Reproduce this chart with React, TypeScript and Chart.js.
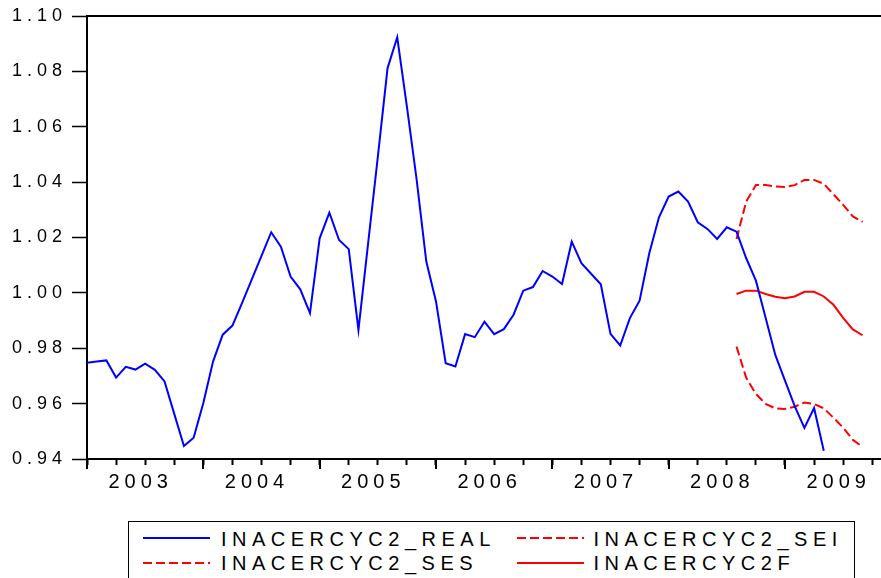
import React, { useEffect, useRef } from "react";
import { Chart, registerables } from "chart.js";

Chart.register(...registerables);

// ---- data ----
const startYear = 2003; // first observation: 2003M01, monthly
const yearLabels = ["2003", "2004", "2005", "2006", "2007", "2008", "2009"];
const seriesNames = ["INACERCYC2_REAL", "INACERCYC2_SEI", "INACERCYC2_SES", "INACERCYC2F"];

const realValues = [
  0.9748, 0.9752, 0.9756, 0.9694, 0.9733, 0.9723, 0.9744, 0.9722, 0.968, 0.9563, 0.9447, 0.9477,
  0.9602, 0.9752, 0.9849, 0.9882, 0.9964, 1.0049, 1.0134, 1.0219, 1.0167, 1.0059, 1.0013, 0.9927,
  1.0197, 1.029, 1.0191, 1.0158, 0.9866, 1.018, 1.0491, 1.0811, 1.0923, 1.0673, 1.041, 1.0113,
  0.9969, 0.9746, 0.9734, 0.9851, 0.984, 0.9896, 0.9851, 0.9869, 0.9921, 1.0008, 1.0021, 1.0079,
  1.0059, 1.0032, 1.0185, 1.0107, 1.0069, 1.0031, 0.9852, 0.981, 0.9909, 0.9972, 1.0143, 1.0273,
  1.0348, 1.0366, 1.033, 1.0255, 1.0231, 1.0195, 1.0237, 1.0221, 1.0125, 1.0044, 0.991, 0.9776,
  0.9683, 0.9591, 0.9512, 0.9584, 0.943,
];

const forecastStart = 67; // 2008M08
const seiValues = [
  1.0195, 1.033, 1.039, 1.039, 1.0384, 1.0382, 1.0389, 1.0408, 1.0408, 1.0394, 1.0356, 1.0318, 1.0276, 1.0256,
];
const sesValues = [
  0.9806, 0.9693, 0.9635, 0.9599, 0.9583, 0.9581, 0.9589, 0.9604, 0.9599, 0.9583, 0.9549, 0.9513, 0.9469, 0.9444,
];
const forecastValues = [
  0.9996, 1.0008, 1.0008, 0.9996, 0.9986, 0.9981, 0.9987, 1.0004, 1.0004, 0.9987, 0.9957, 0.991, 0.9868, 0.9847,
];

const yTickValues = [0.94, 0.96, 0.98, 1.0, 1.02, 1.04, 1.06, 1.08, 1.1];

// ---- styles / layout ----
const FONT = "'Liberation Sans', Arial, sans-serif";
const BLUE = "#0000FF";
const RED = "#FF0000";
const DASH = [9, 4];
const X_MAX = 83.45; // axis extends past the visible window
const CANVAS_W = 896;
const CANVAS_H = 500;
const PLOT_LEFT = 87;
const PLOT_TOP = 16;
const PLOT_BOTTOM = 459;

const seriesStyles = [
  { color: BLUE, dash: [] as number[] },
  { color: RED, dash: DASH },
  { color: RED, dash: DASH },
  { color: RED, dash: [] as number[] },
];

const toPoints = (vals: number[], start: number) => vals.map((v, k) => ({ x: start + k, y: v }));

const quarterTicks: number[] = [];
for (let v = 0; v <= X_MAX; v += 3) quarterTicks.push(v);

const spacingPlugin = {
  id: "letterSpacing",
  beforeUpdate(c: any) { (c.ctx as any).letterSpacing = "5px"; },
  beforeLayout(c: any) { (c.ctx as any).letterSpacing = "5px"; },
  beforeDraw(c: any) { (c.ctx as any).letterSpacing = "5px"; },
};

const majorTickPlugin = {
  id: "majorTicks",
  afterDraw(c: any) {
    const s = c.scales.x;
    const ctx = c.ctx;
    ctx.save();
    ctx.strokeStyle = "#000";
    ctx.lineWidth = 2;
    for (let k = 0; k <= yearLabels.length; k++) {
      const v = k * 12;
      if (v > s.max) break;
      const px = Math.round(s.getPixelForValue(v));
      ctx.beginPath();
      ctx.moveTo(px, s.top);
      ctx.lineTo(px, s.top + 10);
      ctx.stroke();
    }
    ctx.restore();
  },
};

export default function App() {
  const ref = useRef<HTMLCanvasElement | null>(null);

  useEffect(() => {
    if (!ref.current) return;
    const datasets = [
      { data: toPoints(realValues, 0) },
      { data: toPoints(seiValues, forecastStart) },
      { data: toPoints(sesValues, forecastStart) },
      { data: toPoints(forecastValues, forecastStart) },
    ].map((d, i) => ({
      label: seriesNames[i],
      data: d.data,
      borderColor: seriesStyles[i].color,
      backgroundColor: seriesStyles[i].color,
      borderDash: seriesStyles[i].dash,
      borderWidth: 2,
      pointRadius: 0,
      tension: 0,
      fill: false,
    }));

    const chart = new Chart(ref.current, {
      type: "line",
      data: { datasets },
      plugins: [spacingPlugin, majorTickPlugin],
      options: {
        animation: false,
        responsive: true,
        maintainAspectRatio: false,
        layout: { padding: 0 },
        plugins: { legend: { display: false }, tooltip: { enabled: false } },
        scales: {
          x: {
            type: "linear",
            position: "bottom",
            min: 0,
            max: X_MAX,
            afterBuildTicks: (s: any) => {
              s.ticks = quarterTicks.map((v) => ({ value: v }));
            },
            afterFit: (s: any) => {
              s.height = CANVAS_H - PLOT_BOTTOM;
            },
            ticks: {
              autoSkip: false,
              maxRotation: 0,
              minRotation: 0,
              padding: 5,
              labelOffset: -4.5,
              color: "#000",
              font: { family: FONT, size: 20 },
              callback: (v: any) => {
                const n = Number(v);
                return n % 12 === 6 ? yearLabels[(n - 6) / 12] ?? "" : "";
              },
            },
            grid: { drawOnChartArea: false, drawTicks: true, tickLength: 6, tickWidth: 2, tickColor: "#000" },
            border: { display: true, color: "#000", width: 2 },
          },
          xTop: {
            type: "linear",
            position: "top",
            axis: "x",
            min: 0,
            max: X_MAX,
            afterFit: (s: any) => {
              s.height = PLOT_TOP;
            },
            ticks: { display: false },
            grid: { drawOnChartArea: false, drawTicks: false },
            border: { display: true, color: "#000", width: 2 },
          },
          y: {
            type: "linear",
            position: "left",
            min: 0.94,
            max: 1.1,
            afterBuildTicks: (s: any) => {
              s.ticks = yTickValues.map((v) => ({ value: v }));
            },
            afterFit: (s: any) => {
              s.width = PLOT_LEFT;
            },
            ticks: {
              padding: 5,
              color: "#000",
              font: { family: FONT, size: 18 },
              callback: (v: any) => Number(v).toFixed(2),
            },
            grid: { drawOnChartArea: false, drawTicks: true, tickLength: 15, tickWidth: 1.5, tickColor: "#000" },
            border: { display: true, color: "#000", width: 2 },
          },
        },
      } as any,
    });
    return () => chart.destroy();
  }, []);

  const rowY = [538.3, 563];
  const lineX = [143, 517];
  const lineW = 67;
  const textX = [221, 593.5];

  return (
    <div
      style={{
        position: "fixed",
        left: 0,
        top: 0,
        width: 881,
        height: 578,
        overflow: "hidden",
        background: "#fff",
      }}
    >
      <div style={{ position: "absolute", left: 0, top: 0, width: CANVAS_W, height: CANVAS_H }}>
        <canvas ref={ref} />
      </div>
      <div
        style={{
          position: "absolute",
          left: 128,
          top: 521,
          width: 727,
          height: 90,
          border: "1.5px solid #000",
          boxSizing: "border-box",
        }}
      />
      {seriesNames.map((name, i) => {
        const col = i % 2;
        const row = Math.floor(i / 2);
        const st = seriesStyles[i];
        return (
          <React.Fragment key={name}>
            <svg
              style={{ position: "absolute", left: lineX[col], top: rowY[row] - 2 }}
              width={lineW}
              height={4}
            >
              <line
                x1={0}
                y1={2}
                x2={lineW}
                y2={2}
                stroke={st.color}
                strokeWidth={2}
                strokeDasharray={st.dash.length ? st.dash.join(" ") : undefined}
              />
            </svg>
            <span
              style={{
                position: "absolute",
                left: textX[col],
                top: rowY[row] - 9.8,
                fontFamily: FONT,
                fontSize: 20,
                lineHeight: "20px",
                letterSpacing: "5.5px",
                color: "#000",
                whiteSpace: "nowrap",
              }}
            >
              {name}
            </span>
          </React.Fragment>
        );
      })}
    </div>
  );
}
